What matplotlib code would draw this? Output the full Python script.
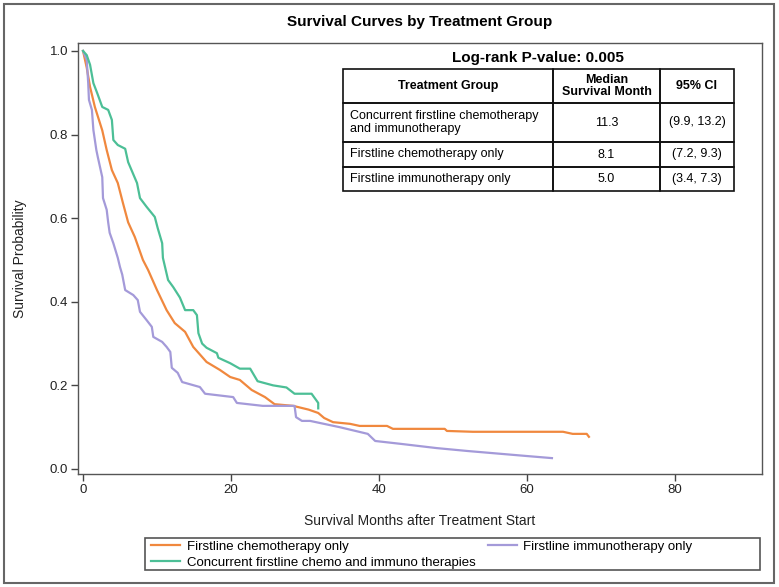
import matplotlib.pyplot as plt
from matplotlib.patches import Rectangle
from matplotlib.lines import Line2D

plt.rcParams['font.family'] = ['Liberation Sans', 'DejaVu Sans']

# survival curves (months, survival probability)
combo_t = [0, 0.5, 0.95, 1.4, 1.9, 2.6, 3.4, 3.9, 4.1, 4.7, 5.7, 6.1, 7.3, 7.7, 8.6, 9.7,
           10.1, 10.7, 10.8, 11.5, 12.2, 13.1, 13.8, 14.9, 15.4, 15.6, 16.1, 16.7, 18.1,
           18.3, 19.9, 21.2, 22.6, 23.6, 25.7, 27.5, 28.6, 30.9, 31.8, 31.8]
combo_s = [1.0, 0.99, 0.967, 0.923, 0.90, 0.866, 0.859, 0.835, 0.787, 0.775, 0.766, 0.734,
           0.684, 0.648, 0.627, 0.603, 0.576, 0.54, 0.505, 0.452, 0.435, 0.41, 0.38, 0.38,
           0.368, 0.325, 0.30, 0.29, 0.277, 0.266, 0.253, 0.24, 0.24, 0.21, 0.20, 0.195,
           0.18, 0.18, 0.158, 0.145]

chemo_t = [0, 0.5, 0.95, 1.6, 2.6, 3.2, 3.9, 4.7, 5.4, 6.1, 7.0, 8.1, 8.8, 10.0, 11.3, 12.4,
           13.8, 14.9, 16.7, 18.5, 19.9, 21.2, 22.8, 24.6, 25.9, 28.4, 30.5, 31.8, 32.6,
           33.8, 36.1, 37.4, 41.1, 41.9, 48.9, 49.2, 52.7, 64.9, 66.2, 68.1, 68.4]
chemo_s = [1.0, 0.96, 0.914, 0.866, 0.81, 0.763, 0.715, 0.684, 0.636, 0.59, 0.555, 0.50,
           0.476, 0.428, 0.38, 0.349, 0.328, 0.292, 0.256, 0.237, 0.22, 0.213, 0.189, 0.172,
           0.155, 0.151, 0.142, 0.134, 0.122, 0.112, 0.108, 0.103, 0.103, 0.096, 0.096,
           0.091, 0.089, 0.089, 0.084, 0.084, 0.077]

immuno_t = [0, 0.5, 0.7, 0.8, 1.2, 1.4, 1.8, 2.0, 2.6, 2.7, 3.2, 3.4, 3.6, 4.1, 4.7, 5.0,
            5.3, 5.7, 6.8, 7.4, 7.7, 8.6, 9.3, 9.5, 10.7, 11.3, 11.8, 12.0, 12.8, 13.4,
            15.8, 16.5, 20.3, 20.8, 24.3, 28.6, 28.8, 29.6, 30.7, 34.7, 38.5, 39.5, 43.0,
            47.8, 52.0, 56.0, 60.0, 63.4]
immuno_s = [1.0, 0.978, 0.923, 0.883, 0.859, 0.811, 0.763, 0.746, 0.698, 0.648, 0.62, 0.59,
            0.565, 0.54, 0.505, 0.483, 0.465, 0.428, 0.416, 0.404, 0.376, 0.356, 0.34,
            0.316, 0.304, 0.292, 0.28, 0.242, 0.23, 0.208, 0.196, 0.18, 0.172, 0.158,
            0.151, 0.151, 0.124, 0.115, 0.115, 0.10, 0.084, 0.067, 0.060, 0.050, 0.043,
            0.037, 0.031, 0.026]

# median table
table_header = ["Treatment Group", "Median\nSurvival Month", "95% CI"]
table_groups = ["Concurrent firstline chemotherapy\nand immunotherapy",
                "Firstline chemotherapy only", "Firstline immunotherapy only"]
table_median = ["11.3", "8.1", "5.0"]
table_ci = ["(9.9, 13.2)", "(7.2, 9.3)", "(3.4, 7.3)"]
pvalue = "0.005"

orange = '#f0883e'
green = '#4cbf96'
purple = '#a49ad9'

W, H = 779, 587
fig = plt.figure(figsize=(W / 100, H / 100), dpi=100)
ax = fig.add_axes([78 / W, 1 - 474 / H, 684 / W, 431 / H])

ax.plot(chemo_t, chemo_s, color=orange, lw=1.6)
ax.plot(immuno_t, immuno_s, color=purple, lw=1.6)
ax.plot(combo_t, combo_s, color=green, lw=1.6)

ax.set_xlim(-0.68, 91.8)
ax.set_ylim(-0.012, 1.019)
ax.set_xticks([0, 20, 40, 60, 80])
ax.set_yticks([0.0, 0.2, 0.4, 0.6, 0.8, 1.0])
ax.set_yticklabels(["0.0", "0.2", "0.4", "0.6", "0.8", "1.0"])
ax.tick_params(direction='out', length=5, width=1, color='#444444',
               labelsize=9.5, labelcolor='#222222', pad=2)
for sp in ax.spines.values():
    sp.set_color('#555555')
    sp.set_linewidth(1.0)

ax.set_xlabel("Survival Months after Treatment Start", fontsize=10, color='#222222')
ax.set_ylabel("Survival Probability", fontsize=10, color='#222222')
ax.xaxis.set_label_coords(0.5, -0.092)
ax.yaxis.set_label_coords(-0.075, 0.5)

fig.text(420 / W, 1 - 22 / H, "Survival Curves by Treatment Group", ha='center',
         va='center', fontsize=11, fontweight='bold')

# p-value and table drawn in axes coords
def ax_x(px):
    return (px - 78) / 684

def ax_y(py):
    return (474 - py) / 431

ax.text(ax_x(538), ax_y(58), "Log-rank P-value: " + pvalue, ha='center', va='center',
        fontsize=11, fontweight='bold', transform=ax.transAxes)

col_edges = [343, 553, 660, 734]
row_edges = [69, 103, 142, 167, 191]
rows = [table_header] + [[g, m, c] for g, m, c in zip(table_groups, table_median, table_ci)]
for r in range(len(rows)):
    for c in range(3):
        x0, x1 = col_edges[c], col_edges[c + 1]
        y0, y1 = row_edges[r], row_edges[r + 1]
        ax.add_patch(Rectangle((ax_x(x0), ax_y(y1)), (x1 - x0) / 684, (y1 - y0) / 431,
                               transform=ax.transAxes, fill=False, ec='#111111', lw=1.2))
        if r == 0:
            ax.text(ax_x((x0 + x1) / 2), ax_y((y0 + y1) / 2), rows[r][c], ha='center',
                    va='center', fontsize=9, fontweight='bold', linespacing=1.1,
                    transform=ax.transAxes)
        elif c == 0:
            ax.text(ax_x(x0 + 7), ax_y((y0 + y1) / 2), rows[r][c], ha='left', va='center',
                    fontsize=9, linespacing=1.1, transform=ax.transAxes)
        else:
            ax.text(ax_x((x0 + x1) / 2), ax_y((y0 + y1) / 2), rows[r][c], ha='center',
                    va='center', fontsize=9, transform=ax.transAxes)

# legend at the bottom
handles = [Line2D([], [], color=orange, lw=1.6),
           Line2D([], [], color=green, lw=1.6),
           Line2D([], [], color=purple, lw=1.6)]
labels = ["Firstline chemotherapy only", "Concurrent firstline chemo and immuno therapies",
          "Firstline immunotherapy only"]
fig.legend(handles, labels, ncol=2, loc='upper left', bbox_to_anchor=(150 / W, 1 - 539 / H),
           frameon=False, fontsize=9.5, borderpad=0.1, borderaxespad=0, handlelength=2.2,
           handletextpad=0.5, columnspacing=0.9, labelspacing=0.3)
fig.patches.append(Rectangle((145 / W, 1 - 570 / H), 615 / W, 32 / H, transform=fig.transFigure,
                             fill=False, ec='#555555', lw=1.2))

# outer frame
fig.patches.append(Rectangle((4 / W, 4 / H), 770 / W, 579 / H, transform=fig.transFigure,
                             fill=False, ec='#666666', lw=1.5))

fig.savefig("out.png", dpi=100)
